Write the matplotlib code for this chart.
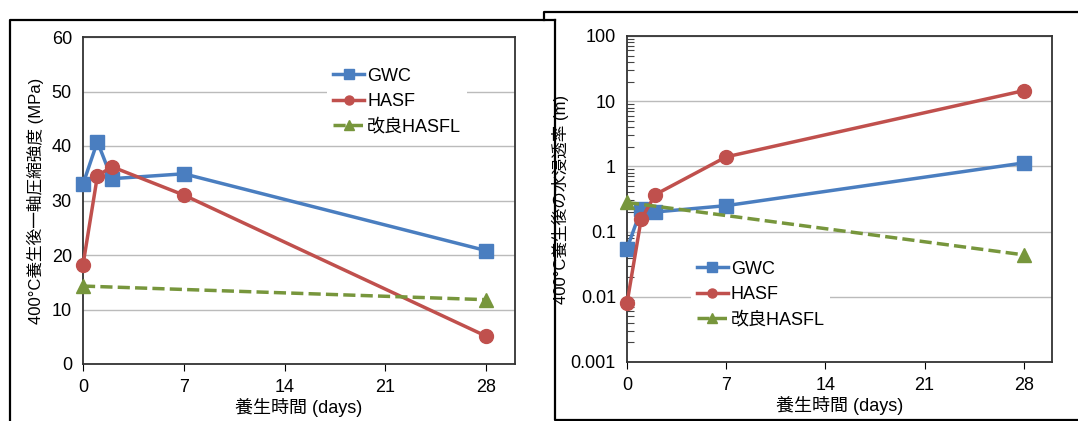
import matplotlib
matplotlib.use('Agg')
import matplotlib.pyplot as plt
from matplotlib.lines import Line2D
from matplotlib.ticker import LogLocator, NullFormatter, FixedLocator

plt.rcParams['font.family'] = ['Liberation Sans', 'Noto Sans CJK JP']

# ── Data ─────────────────────────────────────────────────────────────────────
days = [0, 1, 2, 7, 28]
days_l = [0, 28]

ucs_gwc = [33.0, 40.8, 34.0, 34.9, 20.8]
ucs_hasf = [18.2, 34.5, 36.2, 31.0, 5.1]
ucs_hasfl = [14.3, 11.8]

perm_gwc = [0.055, 0.22, 0.20, 0.25, 1.13]
perm_hasf = [0.008, 0.155, 0.37, 1.4, 14.5]
perm_hasfl = [0.28, 0.044]

names = ['GWC', 'HASF', '改良HASFL']
x_ticks = [0, 7, 14, 21, 28]
xlabel = '養生時間 (days)'
ylabel_l = '400°C養生後一軸圧縮強度 (MPa)'
ylabel_r = '400°C養生後の水浸透率 (m)'

BLUE, RED, GREEN = '#4A7EC0', '#C0504D', '#77963C'
FS = 13
W, H = 1078, 421
fig = plt.figure(figsize=(W / 100, H / 100), dpi=100)
fig.patch.set_facecolor('white')

def px(x0, y0, x1, y1):
    return [x0 / W, 1 - y1 / H, (x1 - x0) / W, (y1 - y0) / H]

def style(ax):
    for s in ax.spines.values():
        s.set_color('#333333')
        s.set_linewidth(1.3)
    ax.grid(axis='y', color='#BBBBBB', lw=1.0)
    ax.set_axisbelow(True)
    ax.set_xlim(0, 30)
    ax.xaxis.set_major_locator(FixedLocator(x_ticks))
    ax.tick_params(axis='x', direction='out', length=5, labelsize=FS, pad=6)
    ax.tick_params(axis='y', length=0, labelsize=FS, pad=8)
    ax.set_xlabel(xlabel, fontsize=FS, labelpad=1)

def plot_set(ax, g, h, l):
    ax.plot(days, g, color=BLUE, lw=2.5, marker='s', ms=10, label=names[0], clip_on=False, zorder=3)
    ax.plot(days, h, color=RED, lw=2.5, marker='o', ms=10, label=names[1], clip_on=False, zorder=3)
    ax.plot(days_l, l, color=GREEN, lw=2.5, ls=(0, (3.5, 1.5)), marker='^', ms=10,
            label=names[2], clip_on=False, zorder=3)

def legend(ax, anchor):
    lg = ax.legend(loc='upper left', bbox_to_anchor=anchor, fontsize=FS, frameon=True,
                   fancybox=False, edgecolor='none', handlelength=1.75, handletextpad=0.15,
                   labelspacing=0.45, borderpad=0.3, markerscale=0.65)
    lg.get_frame().set_alpha(1.0)

# ── Left: UCS ────────────────────────────────────────────────────────────────
ax1 = fig.add_axes(px(83, 37, 515, 364))
plot_set(ax1, ucs_gwc, ucs_hasf, ucs_hasfl)
ax1.set_ylim(0, 60)
ax1.set_yticks(range(0, 61, 10))
style(ax1)
ax1.set_ylabel(ylabel_l, fontsize=12)
ax1.yaxis.set_label_coords(-0.09, 0.5)
legend(ax1, (0.545, 0.95))

# ── Right: permeability (log) ────────────────────────────────────────────────
ax2 = fig.add_axes(px(627, 36, 1052, 362))
plot_set(ax2, perm_gwc, perm_hasf, perm_hasfl)
ax2.set_yscale('log')
ax2.set_ylim(0.001, 100)
ax2.set_yticks([0.001, 0.01, 0.1, 1, 10, 100])
ax2.set_yticklabels(['0.001', '0.01', '0.1', '1', '10', '100'])
ax2.yaxis.set_minor_locator(LogLocator(base=10, subs=range(2, 10)))
ax2.yaxis.set_minor_formatter(NullFormatter())
style(ax2)
ax2.tick_params(axis='y', which='minor', direction='in', length=5, width=0.8, color='#444444')
ax2.set_ylabel(ylabel_r, fontsize=12)
ax2.yaxis.set_label_coords(-0.136, 0.5)
legend(ax2, (0.13, 0.355))

# ── Panel frames ─────────────────────────────────────────────────────────────
def fline(xs, ys, lw=1.6):
    fig.add_artist(Line2D([x / W for x in xs], [1 - y / H for y in ys],
                          color='black', lw=lw, transform=fig.transFigure))

fline([10, 10, 555], [421, 20, 20])
fline([544, 544, 1078], [20, 12, 12])
fline([555, 555, 1078], [20, 420, 420])

fig.savefig('out.png', dpi=100, facecolor='white')
